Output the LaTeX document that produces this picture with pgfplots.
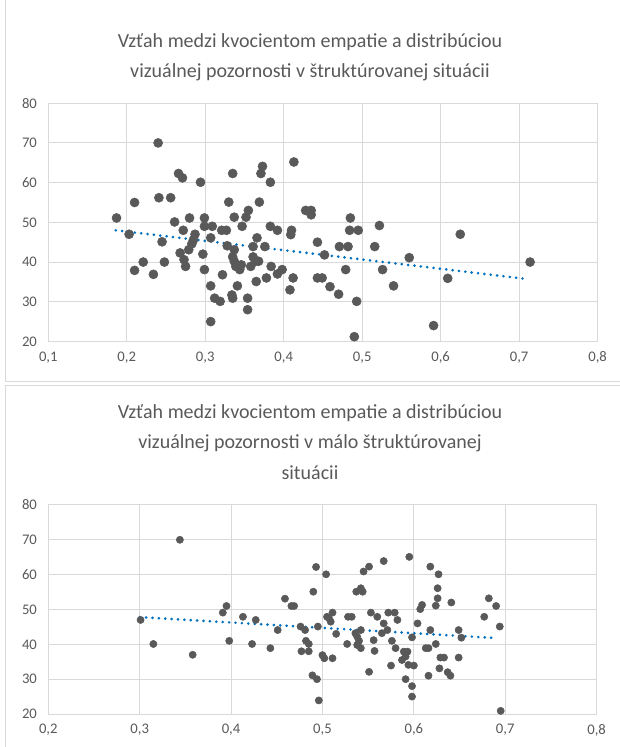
\documentclass[border=0pt]{standalone}
\usepackage{pgfplots}
\pgfplotsset{compat=1.18}
\usepackage{fontspec}
\setmainfont{Carlito}
\definecolor{txt}{HTML}{595959}
\definecolor{gridc}{HTML}{D9D9D9}
\definecolor{dotc}{HTML}{595959}
\definecolor{trend}{HTML}{0070C0}
\pgfplotstableread{
x y
0.187 51.1
0.203 47.0
0.210 55.0
0.210 37.9
0.221 40.0
0.234 36.9
0.240 70.0
0.241 56.2
0.245 45.1
0.248 40.0
0.256 56.2
0.261 50.1
0.266 62.3
0.271 61.2
0.268 42.3
0.273 40.6
0.275 38.9
0.272 48.0
0.280 51.1
0.279 43.1
0.283 44.6
0.285 45.6
0.287 47.0
0.294 60.1
0.297 42.0
0.299 38.1
0.299 51.1
0.299 49.0
0.309 49.0
0.307 46.1
0.307 34.0
0.307 25.0
0.312 30.9
0.319 30.1
0.322 36.8
0.321 48.0
0.327 48.0
0.328 44.1
0.330 55.1
0.335 62.3
0.334 31.7
0.335 30.9
0.337 51.3
0.337 43.1
0.335 41.3
0.337 40.2
0.339 38.9
0.344 38.1
0.346 39.3
0.341 34.0
0.347 49.0
0.352 51.3
0.355 53.0
0.354 30.9
0.354 28.0
0.358 38.9
0.361 41.3
0.361 43.9
0.364 40.2
0.368 40.2
0.366 46.1
0.365 35.1
0.369 55.1
0.371 62.3
0.373 64.1
0.376 43.9
0.378 36.0
0.383 60.1
0.383 49.0
0.384 38.9
0.392 48.0
0.392 37.0
0.398 38.1
0.408 33.0
0.410 48.0
0.409 46.9
0.412 36.0
0.413 65.2
0.428 53.0
0.435 53.0
0.435 51.9
0.443 45.0
0.443 36.0
0.449 36.0
0.452 41.8
0.459 33.8
0.470 31.9
0.471 43.9
0.482 43.9
0.479 38.1
0.484 48.0
0.495 48.0
0.485 51.1
0.493 30.1
0.490 21.2
0.516 43.9
0.522 49.2
0.526 38.1
0.540 34.0
0.560 41.1
0.591 24.0
0.609 35.9
0.625 47.0
0.714 40.0
}\dataA
\pgfplotstableread{
x y
0.301 47.0
0.315 40.1
0.344 70.0
0.358 37.0
0.391 49.1
0.395 51.0
0.398 41.0
0.413 47.9
0.423 40.1
0.427 47.0
0.443 38.9
0.451 44.1
0.459 53.1
0.466 51.0
0.469 51.0
0.476 45.1
0.481 44.1
0.482 41.0
0.485 40.1
0.477 38.0
0.485 38.0
0.489 31.1
0.494 30.0
0.496 23.9
0.490 55.1
0.493 62.2
0.495 45.1
0.504 60.1
0.505 47.9
0.511 49.1
0.509 46.5
0.507 47.5
0.500 36.9
0.502 36.0
0.511 36.0
0.515 43.0
0.527 40.1
0.528 47.9
0.532 47.9
0.537 55.1
0.542 56.1
0.544 55.1
0.545 60.9
0.551 62.3
0.567 63.9
0.538 42.2
0.540 41.0
0.542 44.1
0.536 43.2
0.538 39.8
0.542 38.9
0.553 49.1
0.560 47.9
0.551 32.1
0.556 41.2
0.557 38.1
0.565 43.2
0.571 44.1
0.567 46.0
0.572 49.1
0.579 49.1
0.582 47.0
0.576 41.0
0.580 38.9
0.575 33.9
0.589 37.9
0.593 37.9
0.591 36.5
0.587 35.5
0.594 34.1
0.600 33.9
0.591 30.0
0.598 28.0
0.598 25.0
0.595 65.1
0.598 42.0
0.604 46.0
0.609 51.3
0.607 50.1
0.618 62.3
0.627 60.1
0.626 56.1
0.626 53.2
0.624 51.1
0.641 52.0
0.618 44.1
0.624 40.1
0.613 38.9
0.616 38.9
0.629 36.2
0.633 36.2
0.628 33.1
0.637 32.0
0.640 31.0
0.616 31.0
0.649 44.1
0.652 41.9
0.649 36.2
0.682 53.2
0.690 51.0
0.677 47.9
0.694 45.1
0.695 20.9
}\dataB
\pgfplotsset{
  common/.style={
    scale only axis,
    anchor=south west,
    ymin=20, ymax=80, ytick={20,30,...,80},
    /pgf/number format/assume math mode=true,
    axis line style={gridc, line width=0.75pt},
    grid=major,
    major grid style={gridc, line width=0.75pt},
    major tick length=0pt,
    tick label style={font=\fontsize{11}{13}\selectfont, text=txt},
    yticklabel style={xshift=-5pt},
    xticklabel style={yshift=-4pt},
  },
  dots/.style={only marks, mark=*, mark options={fill=dotc, draw=dotc}},
  trendl/.style={no marks, trend, line width=2.2pt, line cap=round, dash pattern=on 0pt off 4.8pt},
}
\begin{document}
\begin{tikzpicture}
\useasboundingbox (0,0) rectangle (465pt,-560.25pt);
\draw[gridc, line width=0.75pt] (3.75pt,2pt) -- (3.75pt,-285.75pt) -- (470pt,-285.75pt);
\draw[gridc, line width=0.75pt] (3.75pt,-565pt) -- (3.75pt,-288.75pt) -- (470pt,-288.75pt);
\node[font=\fontsize{15}{17}\selectfont, text=txt] at (232.5pt,-31.5pt) {Vzťah medzi kvocientom empatie a distribúciou};
\node[font=\fontsize{15}{17}\selectfont, text=txt] at (232.5pt,-54pt) {vizuálnej pozornosti v štruktúrovanej situácii};
\node[font=\fontsize{15}{17}\selectfont, text=txt] at (232.5pt,-309.75pt) {Vzťah medzi kvocientom empatie a distribúciou};
\node[font=\fontsize{15}{17}\selectfont, text=txt] at (232.5pt,-332.25pt) {vizuálnej pozornosti v málo štruktúrovanej};
\node[font=\fontsize{15}{17}\selectfont, text=txt] at (232.5pt,-354.75pt) {situácii};
\begin{axis}[common,
  at={(36.2pt,-256.1pt)}, width=412pt, height=178.7pt,
  xmin=0.1, xmax=0.8, xtick={0.1,0.2,...,0.8},
  xticklabels={{0,1},{0,2},{0,3},{0,4},{0,5},{0,6},{0,7},{0,8}}]
\addplot[trendl] coordinates {(0.186,48.0) (0.707,35.8)};
\addplot[dots, mark size=3.4pt] table {\dataA};
\end{axis}
\begin{axis}[common,
  at={(36.2pt,-535.5pt)}, width=411.3pt, height=156.8pt,
  xmin=0.2, xmax=0.8, xtick={0.2,0.3,...,0.8},
  xticklabels={{0,2},{0,3},{0,4},{0,5},{0,6},{0,7},{0,8}}]
\addplot[trendl] coordinates {(0.300,47.8) (0.690,41.8)};
\addplot[dots, mark size=2.7pt] table {\dataB};
\end{axis}
\end{tikzpicture}
\end{document}
